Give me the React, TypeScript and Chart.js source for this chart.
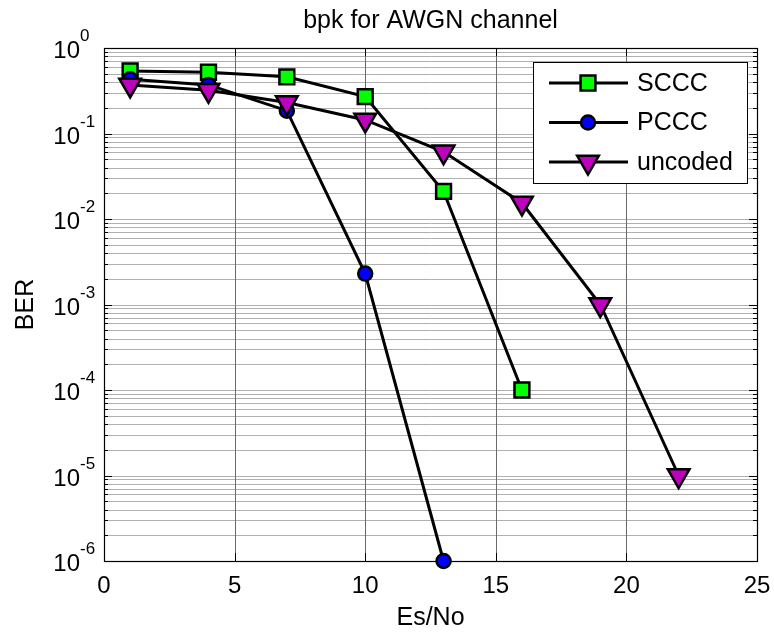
import React, { useEffect, useRef } from 'react';
import { Chart, registerables } from 'chart.js';
import { drawPoint } from 'chart.js/helpers';

Chart.register(...registerables);

// ---- data ----
const esNo = [1, 4, 7, 10, 13, 16, 19, 22];
const scccBer = [0.54, 0.52, 0.46, 0.27, 0.021, 1e-4];
const pcccBer = [0.43, 0.37, 0.185, 0.0023, 1e-6];
const uncodedBer = [0.37, 0.32, 0.23, 0.144, 0.061, 0.0154, 1e-3, 1e-5];
const seriesNames = ['SCCC', 'PCCC', 'uncoded'];
const xTickValues = [0, 5, 10, 15, 20, 25];
const yTickExponents = [0, -1, -2, -3, -4, -5, -6];
const chartTitle = 'bpk for AWGN channel';
const xLabel = 'Es/No';
const yLabel = 'BER';

const FONT = '"Liberation Sans", Arial, Helvetica, sans-serif';

const markerStyles = [
  { pointStyle: 'rect', radius: 10.5, rotation: 0, color: '#00ff00' },
  { pointStyle: 'circle', radius: 7, rotation: 0, color: '#0000ff' },
  { pointStyle: 'triangle', radius: 12.5, rotation: 180, color: '#bf00bf' },
];

const toPoints = (vals: number[]) => vals.map((y, i) => ({ x: esNo[i], y }));

const matlabPlugin = {
  id: 'matlabAxes',
  beforeDatasetsDraw(chart: any) {
    const { ctx, chartArea } = chart;
    const { left, right, top, bottom } = chartArea;
    const xs = chart.scales.x;
    const ys = chart.scales.y;
    ctx.save();
    // grid
    ctx.lineWidth = 1;
    const minE = Math.min(...yTickExponents);
    const maxE = Math.max(...yTickExponents);
    ctx.strokeStyle = '#b0b0b0';
    for (let e = minE; e < maxE; e++) {
      for (let m = 1; m <= 9; m++) {
        const v = m * Math.pow(10, e);
        const y = Math.round(ys.getPixelForValue(v)) + 0.5;
        if (y >= bottom - 1 || y <= top + 1) continue;
        ctx.beginPath();
        ctx.moveTo(left, y);
        ctx.lineTo(right, y);
        ctx.stroke();
      }
    }
    ctx.strokeStyle = '#6a6a6a';
    xTickValues.forEach((v) => {
      const x = Math.round(xs.getPixelForValue(v)) + 0.5;
      if (x <= left + 1 || x >= right - 1) return;
      ctx.beginPath();
      ctx.moveTo(x, top);
      ctx.lineTo(x, bottom);
      ctx.stroke();
    });
    // ticks
    ctx.strokeStyle = '#000';
    ctx.lineWidth = 1;
    for (let e = minE; e <= maxE; e++) {
      for (let m = 1; m <= 9; m++) {
        if (e === maxE && m > 1) break;
        const v = m * Math.pow(10, e);
        const y = Math.round(ys.getPixelForValue(v)) + 0.5;
        const len = m === 1 ? 8 : 4;
        ctx.beginPath();
        ctx.moveTo(left, y);
        ctx.lineTo(left + len, y);
        ctx.moveTo(right, y);
        ctx.lineTo(right - len, y);
        ctx.stroke();
      }
    }
    xTickValues.forEach((v) => {
      const x = Math.round(xs.getPixelForValue(v)) + 0.5;
      ctx.beginPath();
      ctx.moveTo(x, bottom);
      ctx.lineTo(x, bottom - 8);
      ctx.moveTo(x, top);
      ctx.lineTo(x, top + 8);
      ctx.stroke();
    });
    // frame
    ctx.lineWidth = 1.2;
    ctx.strokeRect(Math.round(left) + 0.5, Math.round(top) + 0.5, Math.round(right - left), Math.round(bottom - top));
    ctx.restore();
  },
  afterDatasetsDraw(chart: any) {
    const { ctx, chartArea } = chart;
    const { left, right, top, bottom } = chartArea;
    const xs = chart.scales.x;
    const ys = chart.scales.y;
    ctx.save();
    // legend
    const bx = right - 224;
    const by = top + 14;
    const bw = 214;
    const bh = 121;
    ctx.fillStyle = '#fff';
    ctx.fillRect(bx, by, bw, bh);
    ctx.strokeStyle = '#000';
    ctx.lineWidth = 1;
    ctx.strokeRect(Math.round(bx) + 0.5, Math.round(by) + 0.5, bw, bh);
    seriesNames.forEach((name, i) => {
      const ry = by + 21 + i * 39.5;
      ctx.strokeStyle = '#000';
      ctx.lineWidth = 3;
      ctx.beginPath();
      ctx.moveTo(bx + 16, ry);
      ctx.lineTo(bx + 95, ry);
      ctx.stroke();
      const ms = markerStyles[i];
      ctx.fillStyle = ms.color;
      ctx.strokeStyle = '#000';
      ctx.lineWidth = 2.5;
      drawPoint(ctx, { pointStyle: ms.pointStyle as any, radius: ms.radius, rotation: ms.rotation, borderWidth: 2.5 }, bx + 55, ry);
      ctx.fillStyle = '#000';
      ctx.font = `25px ${FONT}`;
      ctx.textAlign = 'left';
      ctx.textBaseline = 'middle';
      ctx.fillText(name, bx + 104, ry + 1);
    });
    // x tick labels
    ctx.fillStyle = '#000';
    ctx.font = `24px ${FONT}`;
    ctx.textAlign = 'center';
    ctx.textBaseline = 'alphabetic';
    xTickValues.forEach((v) => {
      ctx.fillText(String(v), xs.getPixelForValue(v), bottom + 32);
    });
    // y tick labels
    yTickExponents.forEach((e) => {
      const y = ys.getPixelForValue(Math.pow(10, e));
      ctx.font = `24px ${FONT}`;
      ctx.textAlign = 'right';
      ctx.fillText('10', left - 24, y + 10);
      ctx.font = `17px ${FONT}`;
      ctx.textAlign = 'left';
      ctx.fillText(String(e), left - 24, y - 7);
    });
    // title
    ctx.font = `25px ${FONT}`;
    ctx.textAlign = 'center';
    ctx.fillText(chartTitle, (left + right) / 2, 28);
    // x label
    ctx.fillText(xLabel, (left + right) / 2, bottom + 64);
    // y label
    ctx.save();
    ctx.translate(33, (top + bottom) / 2);
    ctx.rotate(-Math.PI / 2);
    ctx.fillText(yLabel, 0, 0);
    ctx.restore();
    ctx.restore();
  },
};

export default function App() {
  const ref = useRef<HTMLCanvasElement | null>(null);
  useEffect(() => {
    if (!ref.current) return;
    const seriesData = [scccBer, pcccBer, uncodedBer];
    const chart = new Chart(ref.current, {
      type: 'line',
      data: {
        datasets: seriesData.map((vals, i) => ({
          label: seriesNames[i],
          data: toPoints(vals),
          borderColor: '#000',
          borderWidth: 3,
          pointStyle: markerStyles[i].pointStyle as any,
          pointRadius: markerStyles[i].radius,
          pointRotation: markerStyles[i].rotation,
          pointBackgroundColor: markerStyles[i].color,
          pointBorderColor: '#000',
          pointBorderWidth: 2.5,
          pointHoverRadius: markerStyles[i].radius,
          tension: 0,
          order: 3 - i,
          clip: false as any,
        })),
      },
      options: {
        animation: false,
        responsive: false,
        events: [],
        layout: { padding: { top: 48, right: 17, left: 0, bottom: 0 } },
        plugins: { legend: { display: false }, tooltip: { enabled: false }, title: { display: false } },
        scales: {
          x: {
            type: 'linear',
            min: 0,
            max: 25,
            ticks: { display: false },
            grid: { display: false },
            border: { display: false },
            afterFit: (s: any) => { s.height = 74; },
          },
          y: {
            type: 'logarithmic',
            min: 1e-6,
            max: 1,
            ticks: { display: false },
            grid: { display: false },
            border: { display: false },
            afterFit: (s: any) => { s.width = 104; },
          },
        },
      },
      plugins: [matlabPlugin],
    });
    return () => chart.destroy();
  }, []);
  return (
    <div style={{ position: 'fixed', left: 0, top: 0, width: 774, height: 635, background: '#fff' }}>
      <canvas ref={ref} width={774} height={635} />
    </div>
  );
}
